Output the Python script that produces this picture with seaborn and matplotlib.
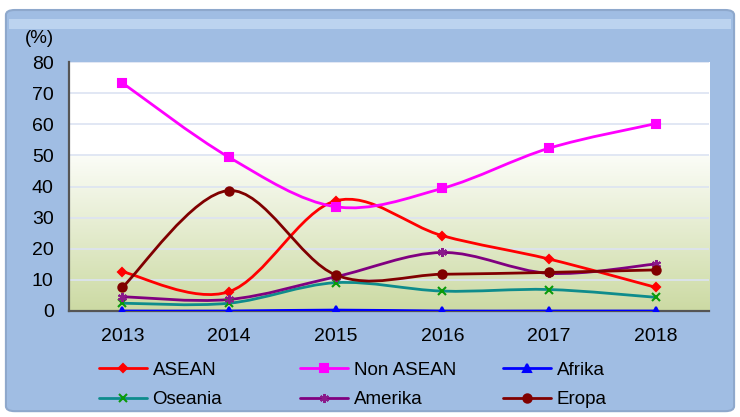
import numpy as np
import matplotlib
matplotlib.use('Agg')
from matplotlib import pyplot as plt
from matplotlib.path import Path
from matplotlib.patches import PathPatch, FancyBboxPatch
from matplotlib.lines import Line2D
import seaborn as sns

years = ['2013', '2014', '2015', '2016', '2017', '2018']
asean = [12.6, 6.2, 35.4, 24.2, 16.7, 7.6]
non_asean = [73.3, 49.4, 33.5, 39.4, 52.3, 60.2]
afrika = [0.0, 0.0, 0.3, 0.0, 0.0, 0.0]
oseania = [2.5, 2.5, 9.1, 6.4, 6.9, 4.4]
amerika = [4.6, 3.7, 11.0, 18.8, 12.1, 15.1]
eropa = [7.6, 38.7, 11.6, 11.8, 12.4, 13.2]

series = [
    ('ASEAN', asean, '#FF0000', '#FF0000', 'D', 4.5),
    ('Non ASEAN', non_asean, '#FF00FF', '#FF00FF', 's', 5.5),
    ('Afrika', afrika, '#0000FF', '#0000FF', '^', 5.5),
    ('Oseania', oseania, '#0E8C8C', '#0A9A0A', 'x', 5.5),
    ('Amerika', amerika, '#800080', '#8A1A8A', (6, 2, 0), 6.5),
    ('Eropa', eropa, '#800000', '#800000', 'o', 6),
]


def smooth_path(xs, ys):
    # Excel-like smoothed line: cubic bezier segments through the points
    pts = np.column_stack([xs, ys]).astype(float)
    n = len(pts)
    verts = [pts[0]]
    codes = [Path.MOVETO]
    for i in range(n - 1):
        p0 = pts[max(i - 1, 0)]
        p1 = pts[i]
        p2 = pts[i + 1]
        p3 = pts[min(i + 2, n - 1)]
        verts += [p1 + (p2 - p0) / 6, p2 - (p3 - p1) / 6, p2]
        codes += [Path.CURVE4] * 3
    return Path(verts, codes)


sns.set_style('white')
plt.rcParams['font.family'] = ['Liberation Sans', 'DejaVu Sans']
plt.rcParams['text.color'] = 'black'
plt.rcParams['xtick.color'] = 'black'
plt.rcParams['ytick.color'] = 'black'

fig = plt.figure(figsize=(7.4, 4.17), dpi=100)
fig.patch.set_facecolor('white')

# chart frame
frame = FancyBboxPatch((0.008, 0.014), 0.984, 0.962, boxstyle='round,pad=0,rounding_size=0.012',
                       transform=fig.transFigure, facecolor='#A0BDE3', edgecolor='#8EA8CC',
                       linewidth=1.5, zorder=-2)
fig.patches.append(frame)
fig.patches.append(FancyBboxPatch((0.012, 0.93), 0.976, 0.025, boxstyle='square,pad=0',
                                  transform=fig.transFigure, facecolor='#BCD3EF',
                                  edgecolor='none', zorder=-1))

ax = fig.add_axes([0.0932, 0.2542, 0.8649, 0.5971])
ax.set_zorder(1)
x = np.arange(len(years))

# plot area gradient: white above 50, fading to olive green at 0
grad = np.ones((256, 1, 3))
top = np.array([1.0, 1.0, 1.0])
mid = np.array([0.985, 0.99, 0.97])
bot = np.array([0.80, 0.855, 0.64])
yy = np.linspace(80, 0, 256)
for k, v in enumerate(yy):
    if v >= 50:
        grad[k, 0] = top
    else:
        t = (50 - v) / 50
        grad[k, 0] = mid * (1 - t) + bot * t
ax.imshow(grad, extent=[-0.5, 5.5, 0, 80], aspect='auto', zorder=0)

for yv in range(10, 81, 10):
    ax.axhline(yv, color='#DCE3F2', linewidth=1.2, zorder=1)

for name, vals, lc, mc, mk, ms in series:
    ax.add_patch(PathPatch(smooth_path(x, vals), facecolor='none', edgecolor=lc,
                           linewidth=2, zorder=3, capstyle='round'))
    sns.lineplot(x=x, y=vals, ax=ax, color=mc, marker=mk, linestyle='none',
                 markersize=ms, markeredgecolor=mc, markerfacecolor=mc,
                 markeredgewidth=1.5, zorder=4)

ax.set_xlim(-0.5, 5.5)
ax.set_ylim(0, 80)
ax.set_yticks(range(0, 81, 10))
ax.set_yticklabels([str(v) for v in range(0, 81, 10)], fontsize=14)
ax.set_xticks(np.arange(-0.5, 5.6, 1.0))
ax.set_xticklabels([])
ax.set_xticks(x, minor=True)
ax.set_xticklabels(years, minor=True, fontsize=14)
ax.tick_params(axis='x', which='major', direction='out', length=5, width=1.2, color='#555555')
ax.tick_params(axis='x', which='minor', length=0, pad=12)
ax.tick_params(axis='y', direction='out', length=5, width=1.2, color='#555555', pad=6)
for side in ['top', 'right']:
    ax.spines[side].set_visible(False)
for side in ['left', 'bottom']:
    ax.spines[side].set_color('#555555')
    ax.spines[side].set_linewidth(1.6)
ax.set_xlabel('')
ax.set_ylabel('')
fig.text(0.033, 0.908, '(%)', fontsize=13.5, ha='left', va='center')

handles = [Line2D([], [], color=lc, marker=mk, markersize=ms, markerfacecolor=mc,
                  markeredgecolor=mc, markeredgewidth=1.5, linewidth=2)
           for name, vals, lc, mc, mk, ms in series]
labels = [s[0] for s in series]
col_x = [0.134, 0.406, 0.68]
for c in range(3):
    idx = [c, c + 3]
    leg = fig.legend([handles[i] for i in idx], [labels[i] for i in idx],
                     loc='center left', bbox_to_anchor=(col_x[c], 0.077), frameon=False,
                     fontsize=13.5, handlelength=2.55, handletextpad=0.3,
                     labelspacing=0.68, borderpad=0, borderaxespad=0)

fig.savefig('out.png', dpi=100, facecolor=fig.get_facecolor())
